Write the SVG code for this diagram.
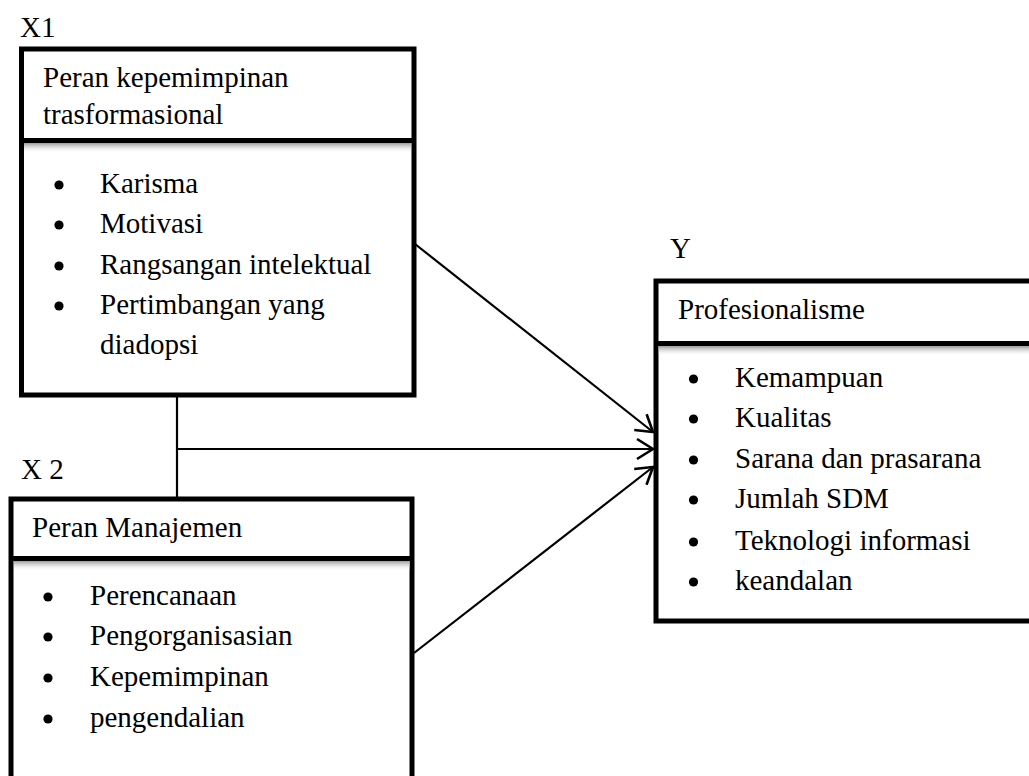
<svg xmlns="http://www.w3.org/2000/svg" width="1029" height="776" viewBox="0 0 1029 776" font-family="'Liberation Serif', 'Times New Roman', serif">
<style>
text{font-family:'Liberation Serif','Times New Roman',serif;font-size:29px;fill:#000}
.box{fill:#fff;stroke:#000;stroke-width:5}
.div{stroke:#000;stroke-width:5}
.con{stroke:#000;stroke-width:2.2;fill:none}
</style>
<defs>
<linearGradient id="sh" x1="0" y1="0" x2="0" y2="1">
<stop offset="0" stop-color="#9a9a9a"/>
<stop offset="1" stop-color="#fff" stop-opacity="0"/>
</linearGradient>
<marker id="ah" markerUnits="userSpaceOnUse" markerWidth="24" markerHeight="26" refX="18" refY="12" orient="auto" viewBox="0 0 24 24">
<path d="M2,2 L18,12 L2,22" fill="none" stroke="#000" stroke-width="2.6"/>
</marker>
<circle id="b" r="4.6" fill="#000"/>
</defs>
<rect width="1029" height="776" fill="#fff"/>

<g id="X1">
<text x="20" y="37">X1</text>
<rect class="box" x="21.5" y="49" width="392.5" height="346"/>
<rect x="24" y="143" width="387" height="10" fill="url(#sh)"/>
<line class="div" x1="21.5" y1="140.5" x2="414" y2="140.5"/>
<text x="43" y="87">Peran kepemimpinan</text>
<text x="43" y="124">trasformasional</text>
<use href="#b" x="59" y="185"/><text x="100" y="193">Karisma</text>
<use href="#b" x="59" y="225"/><text x="100" y="233">Motivasi</text>
<use href="#b" x="59" y="266"/><text x="100" y="274">Rangsangan intelektual</text>
<use href="#b" x="59" y="306"/><text x="100" y="314">Pertimbangan yang</text>
<text x="100" y="354">diadopsi</text>
</g>

<g id="X2">
<text x="21" y="479">X 2</text>
<rect class="box" x="11" y="499" width="401" height="300"/>
<rect x="14" y="561" width="396" height="10" fill="url(#sh)"/>
<line class="div" x1="11" y1="558.5" x2="412" y2="558.5"/>
<text x="32" y="537">Peran Manajemen</text>
<use href="#b" x="48" y="597"/><text x="90" y="605">Perencanaan</text>
<use href="#b" x="48" y="637"/><text x="90" y="645">Pengorganisasian</text>
<use href="#b" x="48" y="678"/><text x="90" y="686">Kepemimpinan</text>
<use href="#b" x="48" y="719"/><text x="90" y="727">pengendalian</text>
</g>

<g id="Y">
<text x="670" y="258">Y</text>
<rect class="box" x="656" y="281" width="390" height="340"/>
<rect x="658.5" y="346" width="380" height="10" fill="url(#sh)"/>
<line class="div" x1="656" y1="343.5" x2="1040" y2="343.5"/>
<text x="678" y="319">Profesionalisme</text>
<use href="#b" x="693.5" y="379"/><text x="735" y="387">Kemampuan</text>
<use href="#b" x="693.5" y="419"/><text x="735" y="427">Kualitas</text>
<use href="#b" x="693.5" y="460"/><text x="735" y="468">Sarana dan prasarana</text>
<use href="#b" x="693.5" y="500"/><text x="735" y="508">Jumlah SDM</text>
<use href="#b" x="693.5" y="542"/><text x="735" y="550">Teknologi informasi</text>
<use href="#b" x="693.5" y="582"/><text x="735" y="590">keandalan</text>
</g>

<g id="connectors">
<line class="con" x1="177" y1="397" x2="177" y2="497"/>
<line class="con" x1="177" y1="449" x2="653" y2="449" marker-end="url(#ah)"/>
<line class="con" x1="415" y1="244" x2="653" y2="432" marker-end="url(#ah)"/>
<line class="con" x1="414" y1="653" x2="653" y2="467" marker-end="url(#ah)"/>
</g>
</svg>
